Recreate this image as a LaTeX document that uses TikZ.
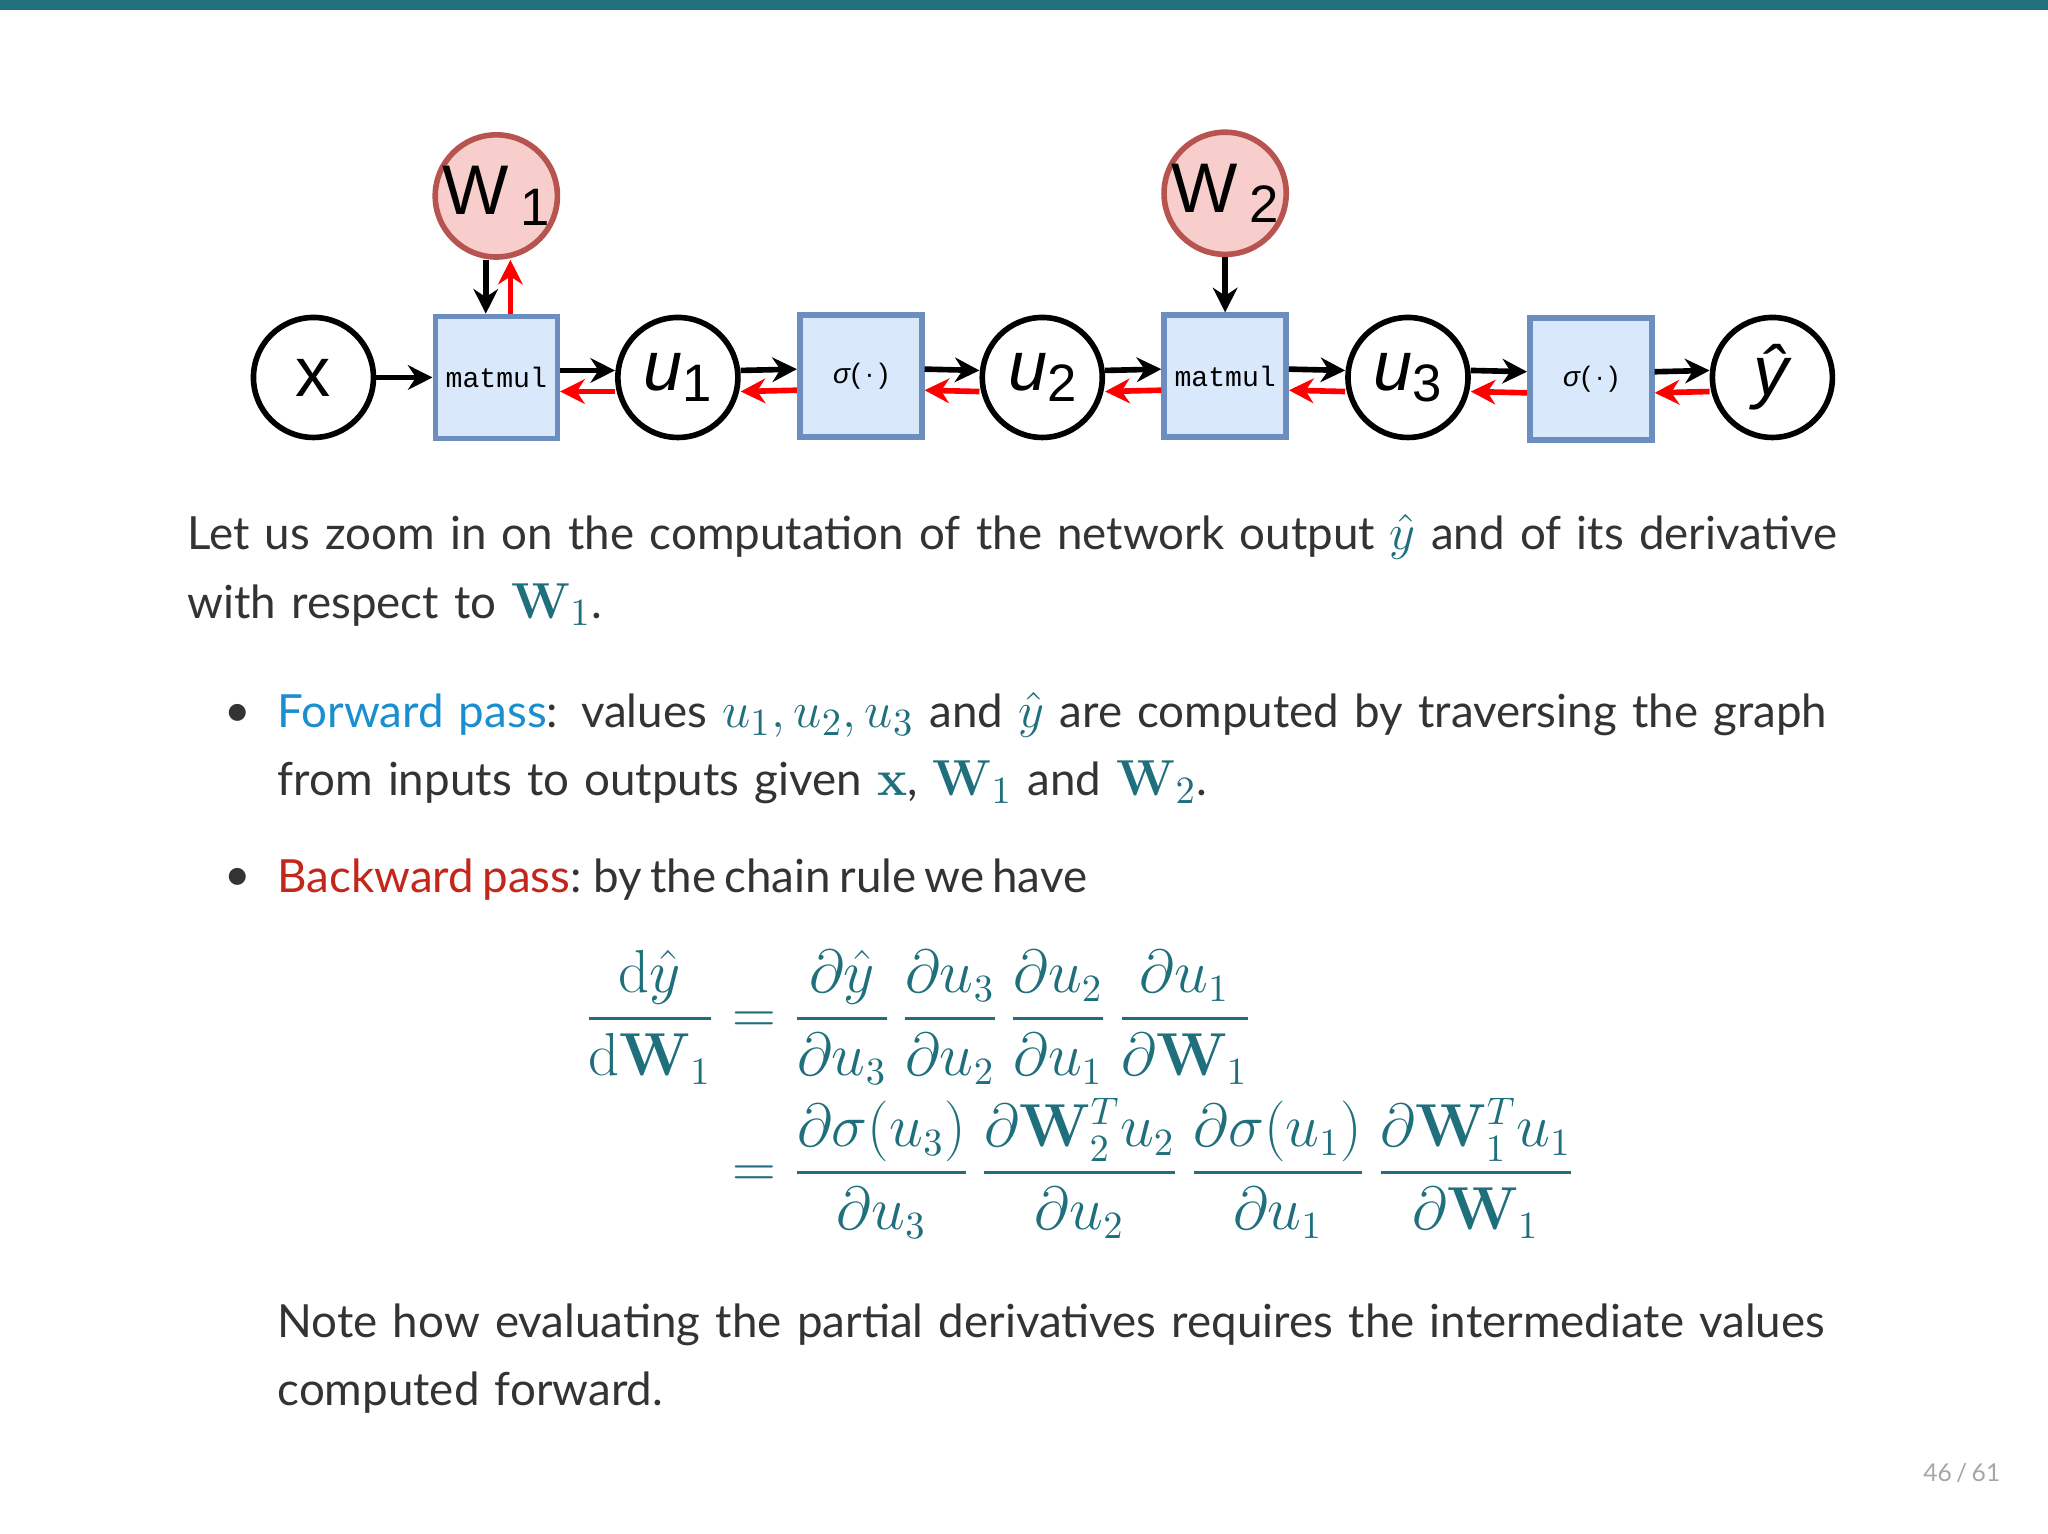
\documentclass[tikz,border=0pt]{standalone}
\usepackage{amsmath}
\usepackage[no-math]{fontspec}
\setmainfont{Lato}[WordSpace=0.7]
\setmonofont{Liberation Mono}
\newfontfamily\drawfont{Liberation Sans}
\usetikzlibrary{arrows.meta}
\definecolor{barteal}{HTML}{23707F}
\definecolor{mathteal}{HTML}{1F6F7C}
\definecolor{fwdblue}{HTML}{1A8ED0}
\definecolor{bwdred}{HTML}{C3261B}
\definecolor{boxfill}{HTML}{DAE8FC}
\definecolor{boxdraw}{HTML}{6C8EBF}
\definecolor{wfill}{HTML}{F8CECC}
\definecolor{wdraw}{HTML}{B85450}
\definecolor{bodytext}{HTML}{333333}
\newcommand{\mt}[1]{{\color{mathteal}\fontsize{15.5}{19.4}\selectfont$#1$}}
\newcommand{\sub}[1]{\raisebox{-3pt}{\fontsize{15}{15}\selectfont #1}}
\tikzset{
  var/.style={circle, draw, line width=1.6pt, minimum size=1.2cm, inner sep=0pt, font=\drawfont\fontsize{20}{20}\selectfont},
  weight/.style={var, draw=wdraw, fill=wfill},
  op/.style={rectangle, draw=boxdraw, fill=boxfill, line width=1.6pt, minimum size=1.22cm, inner sep=0pt},
  fwd/.style={-{Stealth[length=7pt,width=7pt]}, line width=1.6pt},
  bwd/.style={fwd, red},
  body/.style={anchor=base west, inner sep=0pt, text=bodytext, align=left, font=\fontsize{13}{19.4}\selectfont},
}
\begin{document}
\begin{tikzpicture}[x=0.01306cm, y=-0.01306cm]
  \useasboundingbox (0,0) rectangle (1568,1174);
  \fill[barteal] (0,0) rectangle (1568,8);

  % graph
  \node[var] (x) at (240,289) {x};
  \node[op] (mm1) at (380,289) {\ttfamily\fontsize{8}{9}\selectfont matmul};
  \node[var] (u1) at (519,289) {\textit{u}\sub{1}};
  \node[op] (s1) at (659,288) {\drawfont\fontsize{8}{9}\selectfont\textit{σ}(\,·\,)};
  \node[var] (u2) at (798,289) {\textit{u}\sub{2}};
  \node[op] (mm2) at (938,288) {\ttfamily\fontsize{8}{9}\selectfont matmul};
  \node[var] (u3) at (1078,289) {\textit{u}\sub{3}};
  \node[op] (s2) at (1218,290) {\drawfont\fontsize{8}{9}\selectfont\textit{σ}(\,·\,)};
  \node[var] (yh) at (1357,289) {\textit{ŷ}};
  \node[weight] (w1) at (380,150) {W\,\sub{1}};
  \node[weight] (w2) at (938,148) {W\,\sub{2}};

  % forward
  \draw[fwd] (x) -- (mm1);
  \foreach \a/\b in {mm1/u1, u1/s1, s1/u2, u2/mm2, mm2/u3, u3/s2, s2/yh}
    \draw[fwd] ([yshift=2pt]\a.east) -- ([yshift=2pt]\b.west);
  \draw[fwd] ([xshift=-3pt]w1.south) -- ([xshift=-3pt]mm1.north);
  \draw[fwd] (w2) -- (mm2);

  % backward
  \foreach \a/\b in {mm1/u1, u1/s1, s1/u2, u2/mm2, mm2/u3, u3/s2, s2/yh}
    \draw[bwd] ([yshift=-4pt]\b.west) -- ([yshift=-4pt]\a.east);
  \draw[bwd] ([xshift=4pt]mm1.north) -- ([xshift=4pt]w1.south);

  % text
  \node[body, text width=17cm] (intro) at (143,421)
    {Let us zoom in on the computation of the network output \mt{\hat y} and of its derivative\\
     with respect to \mt{\mathbf{W}_1}.};
  \node[anchor=base, text=bodytext, font=\fontsize{13}{13}\selectfont] (b1) at (182,556) {•};
  \node[body, text width=16.5cm] (fwdtxt) at (212,557)
    {{\color{fwdblue}Forward pass}: values \mt{u_1, u_2, u_3} and \mt{\hat y} are computed by traversing the graph\\
     from inputs to outputs given \mt{\mathbf{x}}, \mt{\mathbf{W}_1} and \mt{\mathbf{W}_2}.};
  \node[anchor=base, text=bodytext, font=\fontsize{13}{13}\selectfont] (b2) at (182,682) {•};
  \node[body] (bwdtxt) at (212,683)
    {{\color{bwdred}Backward pass}: by the chain rule we have};
  \node[anchor=north west, inner sep=0pt, text=mathteal, font=\fontsize{16}{19}\selectfont] (eq) at (447,727)
    {$\displaystyle\begin{aligned}
      \frac{\mathrm{d}\hat y}{\mathrm{d}\mathbf{W}_1}
      &= \frac{\partial \hat y}{\partial u_3}\,\frac{\partial u_3}{\partial u_2}\,\frac{\partial u_2}{\partial u_1}\,\frac{\partial u_1}{\partial \mathbf{W}_1}\\
      &= \frac{\partial \sigma(u_3)}{\partial u_3}\,\frac{\partial \mathbf{W}_2^T u_2}{\partial u_2}\,\frac{\partial \sigma(u_1)}{\partial u_1}\,\frac{\partial \mathbf{W}_1^T u_1}{\partial \mathbf{W}_1}
    \end{aligned}$};
  \node[body, text width=16.5cm] (note) at (212,1024)
    {Note how evaluating the partial derivatives requires the intermediate values\\
     computed forward.};
  \node[anchor=base east, inner sep=0pt, text=gray!70, font=\fontsize{7}{8}\selectfont] (page) at (1532,1134) {46 / 61};
\end{tikzpicture}
\end{document}
